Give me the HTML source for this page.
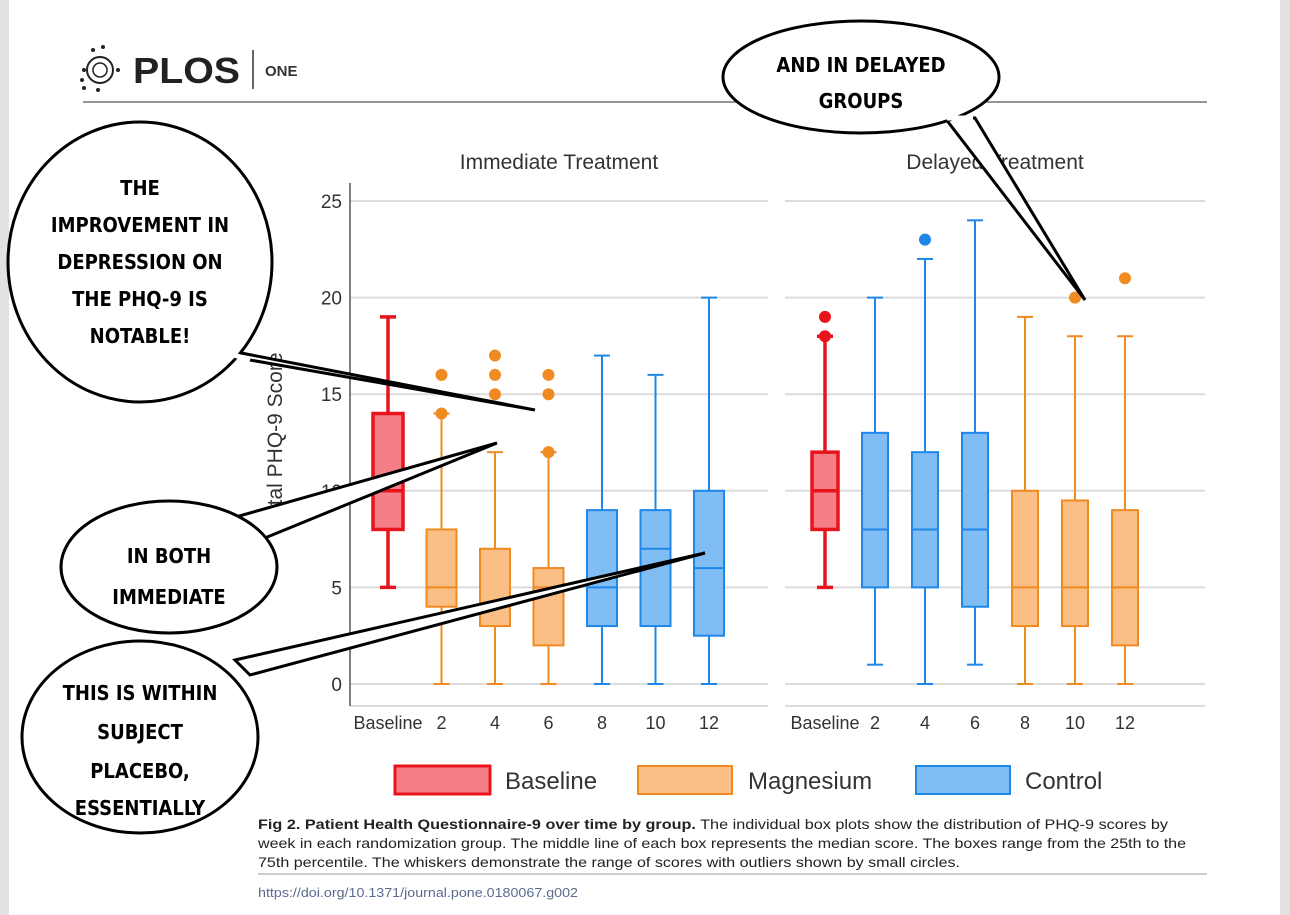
<!DOCTYPE html>
<html><head><meta charset="utf-8"><style>
html,body{margin:0;padding:0;background:#fff;width:1290px;height:915px;overflow:hidden}
svg{display:block}
</style></head><body>
<svg id="chart" width="1290" height="915" viewBox="0 0 1290 915" font-family="Liberation Sans, sans-serif">
<rect x="0" y="0" width="9" height="915" fill="#e2e2e2"/>
<rect x="1280" y="0" width="10" height="915" fill="#e2e2e2"/>
<g>
<circle cx="100" cy="70" r="13" fill="none" stroke="#222" stroke-width="2"/>
<circle cx="100" cy="70" r="7" fill="none" stroke="#222" stroke-width="1.5"/>
<circle cx="84" cy="70" r="2" fill="#222"/><circle cx="118" cy="70" r="2" fill="#222"/>
<circle cx="93" cy="50" r="2" fill="#222"/><circle cx="103" cy="47" r="2" fill="#222"/><circle cx="82" cy="80" r="2" fill="#222"/>
<circle cx="84" cy="88" r="2" fill="#222"/><circle cx="98" cy="90" r="2" fill="#222"/>
<text x="133" y="83" font-size="36" font-weight="bold" fill="#222" textLength="107" lengthAdjust="spacingAndGlyphs">PLOS</text>
<line x1="253" y1="50" x2="253" y2="89" stroke="#333" stroke-width="1.5"/>
<text x="265" y="76" font-size="15" font-weight="bold" fill="#333">ONE</text>
</g>
<line x1="83" y1="102" x2="1207" y2="102" stroke="#555" stroke-width="1.2"/>
<text x="559" y="169" font-size="21" fill="#333" text-anchor="middle">Immediate Treatment</text>
<text x="995" y="169" font-size="21" fill="#333" text-anchor="middle">Delayed Treatment</text>
<text transform="translate(282,440) rotate(-90)" font-size="21" fill="#333" text-anchor="middle">Total PHQ-9 Score</text>
<g id="plot"></g>
<g>
<rect x="395" y="766" width="95" height="28" fill="#f47f86" stroke="#e8141c" stroke-width="3"/>
<text x="505" y="789" font-size="24" fill="#333">Baseline</text>
<rect x="638" y="766" width="94" height="28" fill="#f9bf85" stroke="#f08a22" stroke-width="2"/>
<text x="748" y="789" font-size="24" fill="#333">Magnesium</text>
<rect x="916" y="766" width="94" height="28" fill="#80bdf5" stroke="#1f87e8" stroke-width="2"/>
<text x="1025" y="789" font-size="24" fill="#333">Control</text>
</g>
<g font-size="14" fill="#222">
<text x="258" y="829" textLength="910" lengthAdjust="spacingAndGlyphs"><tspan font-weight="bold">Fig 2. Patient Health Questionnaire-9 over time by group.</tspan> The individual box plots show the distribution of PHQ-9 scores by</text>
<text x="258" y="848" textLength="928" lengthAdjust="spacingAndGlyphs">week in each randomization group. The middle line of each box represents the median score. The boxes range from the 25th to the</text>
<text x="258" y="867" textLength="702" lengthAdjust="spacingAndGlyphs">75th percentile. The whiskers demonstrate the range of scores with outliers shown by small circles.</text>
</g>
<line x1="258" y1="874" x2="1207" y2="874" stroke="#999" stroke-width="1"/>
<text x="258" y="897" font-size="13" fill="#5a6a90" textLength="320" lengthAdjust="spacingAndGlyphs">https://doi.org/10.1371/journal.pone.0180067.g002</text>
<g id="bubbles" fill="#fff" stroke="#000" stroke-width="3" font-family="DejaVu Sans Condensed, Liberation Sans, sans-serif" font-weight="bold">
<path d="M200,345 L535,410 L250,360 Z"/>
<ellipse cx="140" cy="262" rx="132" ry="140"/>
<path d="M225,520 L497,443 L260,540 Z"/>
<ellipse cx="169" cy="567" rx="108" ry="66"/>
<path d="M235,660 L705,553 L250,675 Z"/>
<ellipse cx="140" cy="737" rx="118" ry="96"/>
<path d="M945,118 L1085,300 L975,118 Z"/>
<ellipse cx="861" cy="77" rx="138" ry="56"/>
<path d="M201,345 L250,360" stroke="#fff" stroke-width="5"/>
<path d="M947,118 L973,118" stroke="#fff" stroke-width="5"/>
<g fill="#000" stroke="none" font-size="20" text-anchor="middle">
<text x="140" y="195">THE</text><text x="140" y="232">IMPROVEMENT IN</text><text x="140" y="269">DEPRESSION ON</text><text x="140" y="306">THE PHQ-9 IS</text><text x="140" y="343">NOTABLE!</text>
<text x="169" y="563">IN BOTH</text><text x="169" y="604">IMMEDIATE</text>
<text x="140" y="700">THIS IS WITHIN</text><text x="140" y="739">SUBJECT</text><text x="140" y="778">PLACEBO,</text><text x="140" y="815">ESSENTIALLY</text>
<text x="861" y="72">AND IN DELAYED</text><text x="861" y="108">GROUPS</text>
</g>
</g>
</svg>
<script>
const categories = ["Baseline","2","4","6","8","10","12"];
const yTicks = [0,5,10,15,20,25];
const immGroup = ["baseline","magnesium","magnesium","magnesium","control","control","control"];
const immMin = [5,0,0,0,0,0,0];
const immQ1 = [8,4,3,2,3,3,2.5];
const immMed = [10,5,4,5,5,7,6];
const immQ3 = [14,8,7,6,9,9,10];
const immMax = [19,14,12,12,17,16,20];
const immOutliers = [[],[16,14],[15,16,17],[12,15,16],[],[],[]];
const delGroup = ["baseline","control","control","control","magnesium","magnesium","magnesium"];
const delMin = [5,1,0,1,0,0,0];
const delQ1 = [8,5,5,4,3,3,2];
const delMed = [10,8,8,8,5,5,5];
const delQ3 = [12,13,12,13,10,9.5,9];
const delMax = [18,20,22,24,19,18,18];
const delOutliers = [[19,18],[],[23],[],[],[20],[21]];

const colors = {baseline:["#e8141c","#f47f86"],magnesium:["#f08a22","#f9bf85"],control:["#1f87e8","#80bdf5"]};
const NS="http://www.w3.org/2000/svg";
const g=document.getElementById('plot');
const y=v=>684-19.32*v;
function mk(tag,attrs,parent){const e=document.createElementNS(NS,tag);for(const k in attrs)e.setAttribute(k,attrs[k]);(parent||g).appendChild(e);return e;}
function panel(name,x0,x1,cx0,step,bw,grp,mn,q1,md,q3,mx,outs,axis){
  const pg=mk('g',{});
  
  
  yTicks.forEach(t=>{const l=mk('line',{x1:x0,x2:x1,y1:y(t),y2:y(t),stroke:'#dcdcdc','stroke-width':2},pg);
    
    
    if(axis){const tx=mk('text',{x:x0-8,y:y(t)+7,'font-size':19,fill:'#333','text-anchor':'end'},pg);tx.textContent=t;
      
      }});
  const bl=mk('line',{x1:x0,x2:x1,y1:706,y2:706,stroke:'#dcdcdc','stroke-width':2},pg);
  
  
  if(axis){const al=mk('line',{x1:x0,x2:x0,y1:183,y2:706,stroke:'#555','stroke-width':1.5},pg);
    
    }
  categories.forEach((c,i)=>{
    const cx=cx0+i*step;const [st,fi]=colors[grp[i]];const sw=grp[i]==='baseline'?3.5:2;
    const b=mk('g',{},pg);
    
    
    mk('line',{x1:cx,x2:cx,y1:y(mx[i]),y2:y(q3[i]),stroke:st,'stroke-width':sw},b);
    mk('line',{x1:cx,x2:cx,y1:y(q1[i]),y2:y(mn[i]),stroke:st,'stroke-width':sw},b);
    mk('line',{x1:cx-8,x2:cx+8,y1:y(mx[i]),y2:y(mx[i]),stroke:st,'stroke-width':sw},b);
    mk('line',{x1:cx-8,x2:cx+8,y1:y(mn[i]),y2:y(mn[i]),stroke:st,'stroke-width':sw},b);
    mk('rect',{x:cx-bw/2,y:y(q3[i]),width:bw,height:y(q1[i])-y(q3[i]),fill:fi,stroke:st,'stroke-width':sw},b);
    mk('line',{x1:cx-bw/2,x2:cx+bw/2,y1:y(md[i]),y2:y(md[i]),stroke:st,'stroke-width':sw},b);
    outs[i].forEach(o=>{const p=mk('circle',{cx:cx,cy:y(o),r:6,fill:st},b);
      
      });
    const tl=mk('text',{x:cx,y:729,'font-size':18,fill:'#333','text-anchor':'middle'},pg);tl.textContent=c;
    
    
  });
}
panel('immediate',350,768,388,53.5,30,immGroup,immMin,immQ1,immMed,immQ3,immMax,immOutliers,true);
panel('delayed',785,1205,825,50,26,delGroup,delMin,delQ1,delMed,delQ3,delMax,delOutliers,false);
</script>
</body></html>
